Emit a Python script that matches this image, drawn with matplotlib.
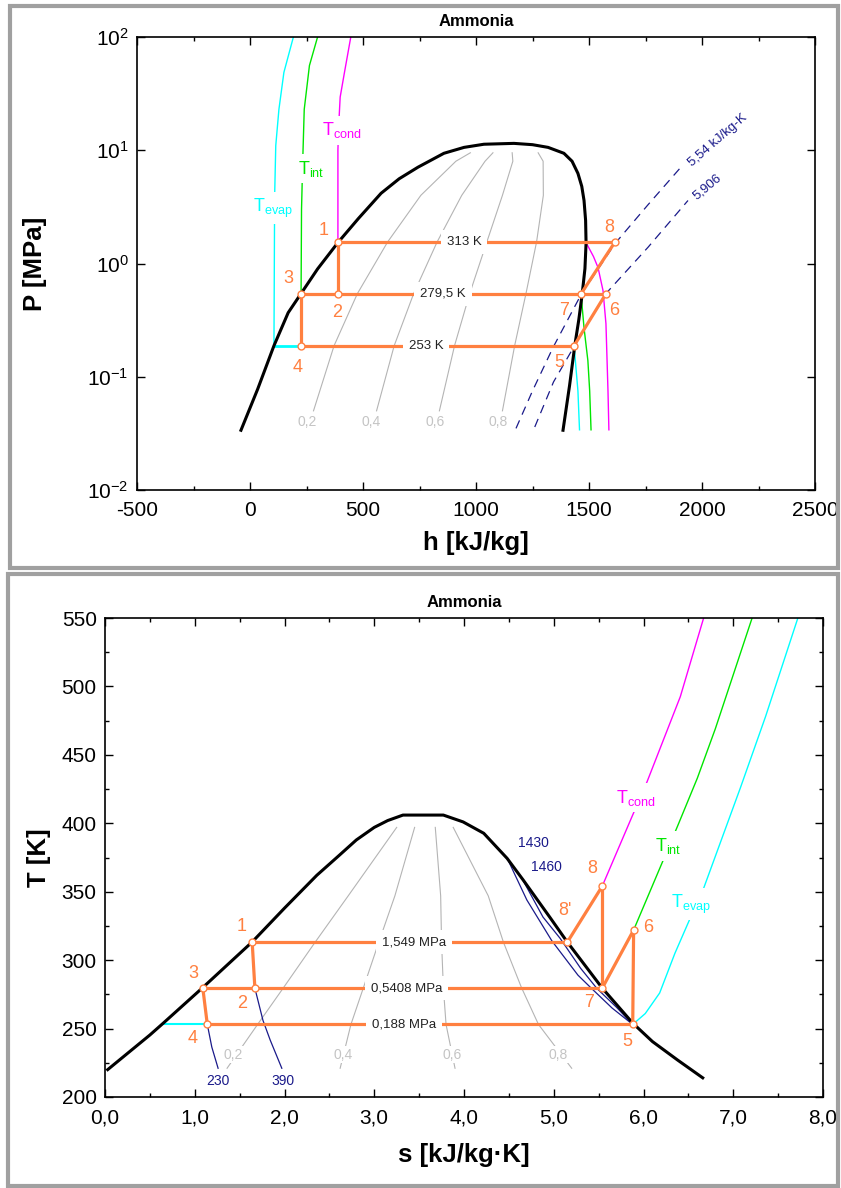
import matplotlib
matplotlib.use('Agg')
import matplotlib.pyplot as plt
from matplotlib.ticker import MultipleLocator, FuncFormatter, FixedLocator, NullLocator, LogFormatterSciNotation
from matplotlib.patches import Rectangle

plt.rcParams['font.family'] = ['Liberation Sans', 'DejaVu Sans']
plt.rcParams['mathtext.fontset'] = 'custom'
plt.rcParams['mathtext.rm'] = 'Liberation Sans'
plt.rcParams['axes.unicode_minus'] = False

# #### P-h diagram data
ph_dome_h = [-40, 34, 106, 169, 226, 299, 389, 480, 580, 660, 743, 858, 947, 1035, 1168,
             1250, 1319, 1389, 1425, 1451, 1468, 1478, 1485, 1487, 1482, 1470, 1455, 1437, 1414, 1385]
ph_dome_p = [0.0337, 0.0778, 0.188, 0.368, 0.543, 0.895, 1.53, 2.5, 4.17, 5.6, 7.08, 9.4, 10.6, 11.3, 11.5,
             11.2, 10.6, 9.4, 8.0, 6.25, 4.8, 3.6, 2.4, 1.51, 0.9, 0.541, 0.32, 0.188, 0.0837, 0.0337]

# Quality lines (x = 0.2 ... 0.8)
ph_qual_p = [0.05, 0.188, 0.541, 1.55, 4.0, 8.0, 9.5]
ph_qual_h = {'0,2': [281, 372, 475, 609, 756, 911, 975],
             '0,4': [560, 638, 724, 828, 937, 1040, 1075],
             '0,6': [838, 905, 972, 1048, 1117, 1163, 1160],
             '0,8': [1117, 1171, 1221, 1268, 1298, 1297, 1275]}
ph_qual_lbl_h = [252, 537, 818, 1100]

# Isotherms
ph_tevap_liq_h = [106, 109, 114, 128, 150, 192]
ph_tevap_liq_p = [0.188, 3.9, 11, 23, 48.7, 100]
ph_tevap_vap_h = [1434, 1451, 1458]
ph_tevap_vap_p = [0.188, 0.075, 0.034]
ph_tint_liq_h = [226, 228, 233, 240, 263, 299]
ph_tint_liq_p = [0.543, 3, 7.7, 23, 56, 100]
ph_tint_vap_h = [1465, 1478, 1495, 1503, 1509]
ph_tint_vap_p = [0.532, 0.27, 0.139, 0.075, 0.034]
ph_tcond_liq_h = [389, 389, 392, 399, 418, 446]
ph_tcond_liq_p = [1.53, 10, 15.9, 29.5, 48.7, 100]
ph_tcond_vap_h = [1487, 1520, 1540, 1562, 1575, 1584, 1588]
ph_tcond_vap_p = [1.53, 1.15, 0.92, 0.577, 0.294, 0.075, 0.034]

# Isentropes
ph_s1_h = [1177, 1250, 1340, 1465, 1615, 1761, 1907]
ph_s1_p = [0.035, 0.075, 0.18, 0.532, 1.50, 3.3, 7.1]
ph_s2_h = [1260, 1343, 1434, 1575, 1761, 1938]
ph_s2_p = [0.036, 0.09, 0.185, 0.543, 1.39, 3.6]

# Cycle state points
ph_pts = {'1': (389, 1.549), '2': (389, 0.5408), '3': (226, 0.5408), '4': (226, 0.188),
          '5': (1434, 0.188), '6': (1575, 0.5408), '7': (1465, 0.5408), '8': (1615, 1.549)}
ph_pt_lbl = {'1': (327, 1.96), '8': (1589, 2.08), '3': (168, 0.735), '2': (385, 0.368),
             '7': (1389, 0.384), '6': (1611, 0.384), '4': (212, 0.12), '5': (1367, 0.133)}
ph_line_lbl = [('313 K', 947, 1.549), ('279,5 K', 854, 0.5408), ('253 K', 779, 0.188)]

# #### T-s diagram data
ts_dome_s = [0.03, 0.50, 0.65, 1.09, 1.64, 2.00, 2.36, 2.60, 2.80, 3.00, 3.15, 3.32, 3.77, 3.99, 4.22,
             4.48, 4.66, 4.96, 5.15, 5.54, 5.88, 6.10, 6.38, 6.66]
ts_dome_T = [220, 245.3, 254, 280, 313.3, 338, 362, 376, 387.8, 397, 402, 406, 406, 401, 392.7,
             374.4, 358.5, 331, 313.3, 279.6, 254, 240.5, 227, 214]

ts_qual_T = [221, 253, 280, 313, 347, 397]
ts_qual_s = {'0,2': [1.36, 1.70, 1.99, 2.34, 2.71, 3.25],
             '0,4': [2.62, 2.74, 2.88, 3.05, 3.23, 3.45],
             '0,6': [3.90, 3.80, 3.77, 3.75, 3.74, 3.68],
             '0,8': [5.20, 4.83, 4.64, 4.44, 4.27, 3.88]}
ts_qual_lbl_s = [1.43, 2.65, 3.87, 5.05]

# Isenthalps
ts_h230_s = [1.14, 1.19, 1.26]
ts_h230_T = [253, 236.5, 221]
ts_h390_s = [1.67, 1.76, 1.84, 1.97]
ts_h390_T = [279.5, 256, 241.7, 221]
ts_h1430_s = [4.48, 4.70, 4.98, 5.27, 5.42, 5.65, 5.88]
ts_h1430_T = [374.6, 344, 314, 289, 279.4, 265, 253]
ts_h1460_s = [4.66, 4.88, 5.07, 5.30, 5.48, 5.70, 5.88]
ts_h1460_T = [358, 331.5, 316, 294, 279.4, 265.5, 253]

# Isobars outside the dome
ts_tevap_s = [5.88, 6.02, 6.18, 6.35, 6.52, 6.67, 7.08, 7.36, 7.72]
ts_tevap_T = [253, 261, 276, 305, 330.6, 352.5, 426, 478, 550]
ts_tint_s = [5.54, 5.89, 6.20, 6.38, 6.60, 6.80, 7.21]
ts_tint_T = [279.5, 322, 370, 398, 433, 469, 550]
ts_tcond_s = [5.15, 5.54, 5.87, 6.04, 6.41, 6.67]
ts_tcond_T = [313, 354, 404.6, 430.4, 492.5, 550]

ts_pts = {'1': (1.64, 313), '2': (1.67, 279.5), '3': (1.09, 279.5), '4': (1.14, 253),
          '5': (5.88, 253), '6': (5.89, 322), '7': (5.54, 279.5), '8': (5.54, 354), "8'": (5.15, 313)}
ts_pt_lbl = {'1': (1.52, 324.4), '3': (0.98, 290.4), '2': (1.53, 268.5), '4': (0.98, 242.9),
             '8': (5.43, 367), "8'": (5.12, 336.6), '6': (6.05, 323.5), '7': (5.39, 268.7), '5': (5.82, 240.2)}
ts_line_lbl = [('1,549 MPa', 3.44, 313), ('0,5408 MPa', 3.36, 279.5), ('0,188 MPa', 3.33, 253)]

# #### Style settings
c_orange = '#ff8040'
c_cyan = '#00ffff'
c_green = '#00e600'
c_mag = '#ff00ff'
c_navy = '#1a1a8a'
c_qual = '#b4b4b4'
c_qlbl = '#c4c4c4'
white_box = dict(boxstyle='square,pad=0.25', fc='white', ec='none')


def style_axes(ax):
    ax.tick_params(which='both', direction='in', top=True, right=True, labelsize=15, pad=8)
    ax.tick_params(which='major', length=6, width=1)
    ax.tick_params(which='minor', length=3, width=1)
    ax.tick_params(axis='y', pad=6)
    for sp in ax.spines.values():
        sp.set_linewidth(1.2)


def draw_cycle(ax, pts, segs):
    for a, b in segs:
        ax.plot([pts[a][0], pts[b][0]], [pts[a][1], pts[b][1]], color=c_orange, lw=2.3,
                solid_capstyle='round', zorder=5)
    for k, (x, y) in pts.items():
        ax.plot(x, y, 'o', ms=5, mfc='white', mec=c_orange, mew=1, zorder=6)


fig = plt.figure(figsize=(8.41, 11.88), dpi=100)

# Panel frames
fig.add_artist(Rectangle((10/841, 1-568/1188), 828/841, 562/1188, transform=fig.transFigure,
                         fill=False, ec='#a0a0a0', lw=3))
fig.add_artist(Rectangle((8/841, 1-1186/1188), 830/841, 612/1188, transform=fig.transFigure,
                         fill=False, ec='#a0a0a0', lw=3))

# #### P-h figure
ax1 = fig.add_axes([137/841, 1-490/1188, 678/841, 453/1188])
ax1.set_yscale('log')
ax1.set_xlim(-500, 2500)
ax1.set_ylim(0.01, 100)

for key, hs in ph_qual_h.items():
    ax1.plot(hs, ph_qual_p, color=c_qual, lw=0.8, zorder=1)
for key, hx in zip(ph_qual_h.keys(), ph_qual_lbl_h):
    ax1.text(hx, 0.04, key, color=c_qlbl, fontsize=10, ha='center', va='center', zorder=2)

ax1.plot(ph_tevap_liq_h, ph_tevap_liq_p, color=c_cyan, lw=1, zorder=2)
ax1.plot([ph_tevap_liq_h[0], ph_pts['4'][0]], [0.188, 0.188], color=c_cyan, lw=2, zorder=2)
ax1.plot(ph_tevap_vap_h, ph_tevap_vap_p, color=c_cyan, lw=1, zorder=2)
ax1.plot(ph_tint_liq_h, ph_tint_liq_p, color=c_green, lw=1, zorder=2)
ax1.plot(ph_tint_vap_h, ph_tint_vap_p, color=c_green, lw=1, zorder=2)
ax1.plot(ph_tcond_liq_h, ph_tcond_liq_p, color=c_mag, lw=1, zorder=2)
ax1.plot(ph_tcond_vap_h, ph_tcond_vap_p, color=c_mag, lw=1, zorder=2)

ax1.text(102, 3.07, r'T$_\mathregular{evap}$', color=c_cyan, fontsize=13, ha='center', va='center',
         bbox=white_box, zorder=3)
ax1.text(272, 6.9, r'T$_\mathregular{int}$', color=c_green, fontsize=13, ha='center', va='center',
         bbox=white_box, zorder=3)
ax1.text(405, 15, r'T$_\mathregular{cond}$', color=c_mag, fontsize=13, ha='center', va='center',
         bbox=white_box, zorder=3)

ax1.plot(ph_dome_h, ph_dome_p, color='black', lw=2.2, zorder=4)

ax1.plot(ph_s1_h, ph_s1_p, color=c_navy, lw=0.9, dashes=(7, 5), zorder=3)
ax1.plot(ph_s2_h, ph_s2_p, color=c_navy, lw=0.9, dashes=(7, 5), zorder=3)
ax1.text(1945, 7.5, '5,54 kJ/kg-K', color=c_navy, fontsize=9.5, rotation=41,
         rotation_mode='anchor', ha='left', va='center')
ax1.text(1965, 3.84, '5,906', color=c_navy, fontsize=9.5, rotation=40,
         rotation_mode='anchor', ha='left', va='center')

draw_cycle(ax1, ph_pts, [('1', '8'), ('1', '2'), ('3', '6'), ('3', '4'), ('4', '5'),
                         ('5', '6'), ('7', '8')])
for txt, hx, px in ph_line_lbl:
    ax1.text(hx, px, txt, fontsize=9.5, color='#222222', ha='center', va='center',
             bbox=dict(boxstyle='square,pad=0.45', fc='white', ec='none'), zorder=7)
for k, (hx, px) in ph_pt_lbl.items():
    ax1.text(hx, px, k, color=c_orange, fontsize=13, ha='center', va='center', zorder=7)

ax1.xaxis.set_major_locator(MultipleLocator(500))
ax1.xaxis.set_minor_locator(MultipleLocator(250))
ax1.yaxis.set_major_locator(FixedLocator([0.01, 0.1, 1, 10, 100]))
ax1.yaxis.set_major_formatter(LogFormatterSciNotation())
ax1.yaxis.set_minor_locator(NullLocator())
style_axes(ax1)
ax1.set_title('Ammonia', fontsize=12, fontweight='bold', pad=8)
ax1.set_xlabel('h [kJ/kg]', fontsize=18.5, fontweight='bold')
ax1.set_ylabel('P [MPa]', fontsize=18.5, fontweight='bold')
ax1.xaxis.set_label_coords(0.5, -0.09)
ax1.yaxis.set_label_coords(-0.133, 0.5)

# #### T-s figure
ax2 = fig.add_axes([105/841, 1-1097/1188, 718/841, 479/1188])
ax2.set_xlim(0, 8)
ax2.set_ylim(200, 550)

for key, ss in ts_qual_s.items():
    ax2.plot(ss, ts_qual_T, color=c_qual, lw=0.8, zorder=1)
for key, sx in zip(ts_qual_s.keys(), ts_qual_lbl_s):
    ax2.text(sx, 231, key, color=c_qlbl, fontsize=10, ha='center', va='center',
             bbox=dict(boxstyle='square,pad=0.1', fc='white', ec='none'), zorder=2)

ax2.plot(ts_h230_s, ts_h230_T, color=c_navy, lw=0.9, zorder=2)
ax2.plot(ts_h390_s, ts_h390_T, color=c_navy, lw=0.9, zorder=2)
ax2.plot(ts_h1430_s, ts_h1430_T, color=c_navy, lw=0.9, zorder=2)
ax2.plot(ts_h1460_s, ts_h1460_T, color=c_navy, lw=0.9, zorder=2)
ax2.text(1.26, 211.5, '230', color=c_navy, fontsize=10, ha='center', va='center')
ax2.text(1.98, 211.5, '390', color=c_navy, fontsize=10, ha='center', va='center')
ax2.text(4.77, 385.6, '1430', color=c_navy, fontsize=10, ha='center', va='center')
ax2.text(4.92, 368, '1460', color=c_navy, fontsize=10, ha='center', va='center')

ax2.plot([0.65, ts_pts['4'][0]], [253, 253], color=c_cyan, lw=1.5, zorder=2)
ax2.plot(ts_tevap_s, ts_tevap_T, color=c_cyan, lw=1, zorder=2)
ax2.plot(ts_tint_s, ts_tint_T, color=c_green, lw=1, zorder=2)
ax2.plot(ts_tcond_s, ts_tcond_T, color=c_mag, lw=1, zorder=2)
ax2.text(6.53, 341, r'T$_\mathregular{evap}$', color=c_cyan, fontsize=13, ha='center', va='center',
         bbox=white_box, zorder=3)
ax2.text(6.28, 383.4, r'T$_\mathregular{int}$', color=c_green, fontsize=13, ha='center', va='center',
         bbox=white_box, zorder=3)
ax2.text(5.92, 418.5, r'T$_\mathregular{cond}$', color=c_mag, fontsize=13, ha='center', va='center',
         bbox=white_box, zorder=3)

ax2.plot(ts_dome_s, ts_dome_T, color='black', lw=2.2, zorder=4)

draw_cycle(ax2, ts_pts, [('1', "8'"), ('1', '2'), ('3', '7'), ('3', '4'), ('4', '5'),
                         ('5', '6'), ('7', '6'), ('7', '8'), ("8'", '8')])
for txt, sx, tx in ts_line_lbl:
    ax2.text(sx, tx, txt, fontsize=9.5, color='#222222', ha='center', va='center',
             bbox=dict(boxstyle='square,pad=0.45', fc='white', ec='none'), zorder=7)
for k, (sx, tx) in ts_pt_lbl.items():
    ax2.text(sx, tx, k, color=c_orange, fontsize=13, ha='center', va='center', zorder=7)

ax2.xaxis.set_major_locator(MultipleLocator(1))
ax2.xaxis.set_minor_locator(MultipleLocator(0.5))
ax2.xaxis.set_major_formatter(FuncFormatter(lambda v, p: f'{v:.1f}'.replace('.', ',')))
ax2.yaxis.set_major_locator(MultipleLocator(50))
ax2.yaxis.set_minor_locator(MultipleLocator(25))
style_axes(ax2)
ax2.set_title('Ammonia', fontsize=12, fontweight='bold', pad=8)
ax2.set_xlabel('s [kJ/kg·K]', fontsize=18.5, fontweight='bold')
ax2.set_ylabel('T [K]', fontsize=18.5, fontweight='bold')
ax2.xaxis.set_label_coords(0.5, -0.097)
ax2.yaxis.set_label_coords(-0.075, 0.5)

plt.savefig('out.png', dpi=100, facecolor='w')
